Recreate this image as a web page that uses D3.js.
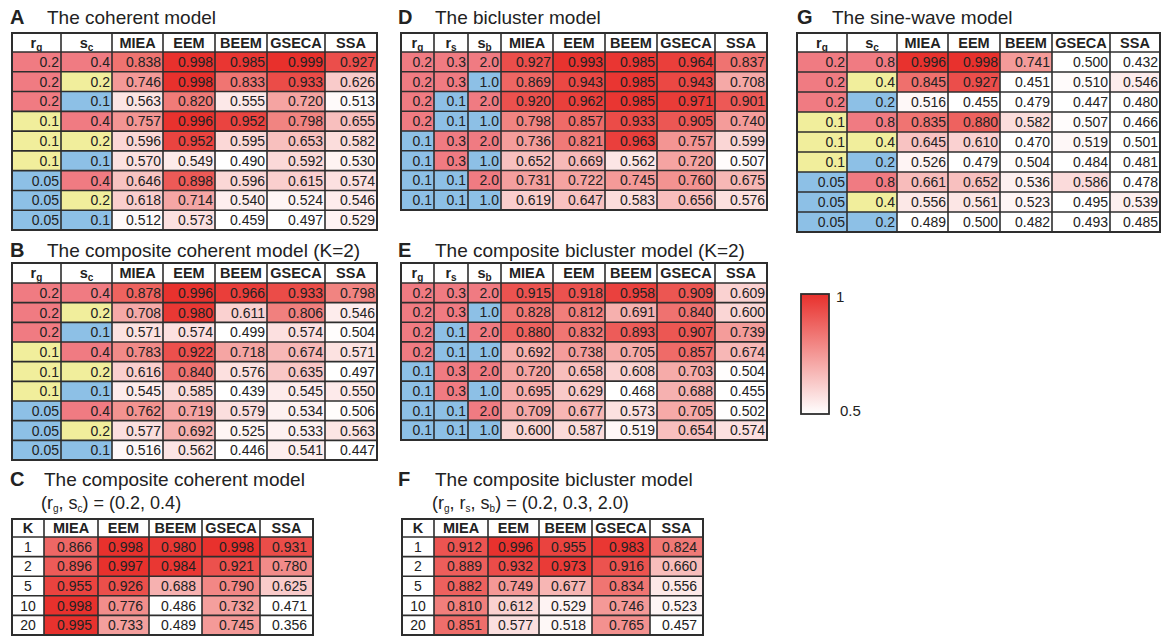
<!DOCTYPE html>
<html>
<head>
<meta charset="utf-8">
<script src="https://cdn.jsdelivr.net/npm/d3@7"></script>
<style>
  body { margin: 0; background: #fff; }
  svg { display: block; font-family: "Liberation Sans", Arial, sans-serif; }
</style>
</head>
<body>
<svg id="chart" width="1162" height="638"></svg>
<script>
// ---- data ----
const methods = ["MIEA", "EEM", "BEEM", "GSECA", "SSA"];

// A: coherent model
const cohRg = ["0.2", "0.2", "0.2", "0.1", "0.1", "0.1", "0.05", "0.05", "0.05"];
const cohSc = ["0.4", "0.2", "0.1", "0.4", "0.2", "0.1", "0.4", "0.2", "0.1"];
const cohScores = [
  [0.838, 0.998, 0.985, 0.999, 0.927],
  [0.746, 0.998, 0.833, 0.933, 0.626],
  [0.563, 0.820, 0.555, 0.720, 0.513],
  [0.757, 0.996, 0.952, 0.798, 0.655],
  [0.596, 0.952, 0.595, 0.653, 0.582],
  [0.570, 0.549, 0.490, 0.592, 0.530],
  [0.646, 0.898, 0.596, 0.615, 0.574],
  [0.618, 0.714, 0.540, 0.524, 0.546],
  [0.512, 0.573, 0.459, 0.497, 0.529]
];

// B: composite coherent model (K=2)
const compCohScores = [
  [0.878, 0.996, 0.966, 0.933, 0.798],
  [0.708, 0.980, 0.611, 0.806, 0.546],
  [0.571, 0.574, 0.499, 0.574, 0.504],
  [0.783, 0.922, 0.718, 0.674, 0.571],
  [0.616, 0.840, 0.576, 0.635, 0.497],
  [0.545, 0.585, 0.439, 0.545, 0.550],
  [0.762, 0.719, 0.579, 0.534, 0.506],
  [0.577, 0.692, 0.525, 0.533, 0.563],
  [0.516, 0.562, 0.446, 0.541, 0.447]
];

// C: composite coherent by K
const kValues = ["1", "2", "5", "10", "20"];
const cohKScores = [
  [0.866, 0.998, 0.980, 0.998, 0.931],
  [0.896, 0.997, 0.984, 0.921, 0.780],
  [0.955, 0.926, 0.688, 0.790, 0.625],
  [0.998, 0.776, 0.486, 0.732, 0.471],
  [0.995, 0.733, 0.489, 0.745, 0.356]
];

// D: bicluster model
const biRg = ["0.2", "0.2", "0.2", "0.2", "0.1", "0.1", "0.1", "0.1"];
const biRs = ["0.3", "0.3", "0.1", "0.1", "0.3", "0.3", "0.1", "0.1"];
const biSb = ["2.0", "1.0", "2.0", "1.0", "2.0", "1.0", "2.0", "1.0"];
const biScores = [
  [0.927, 0.993, 0.985, 0.964, 0.837],
  [0.869, 0.943, 0.985, 0.943, 0.708],
  [0.920, 0.962, 0.985, 0.971, 0.901],
  [0.798, 0.857, 0.933, 0.905, 0.740],
  [0.736, 0.821, 0.963, 0.757, 0.599],
  [0.652, 0.669, 0.562, 0.720, 0.507],
  [0.731, 0.722, 0.745, 0.760, 0.675],
  [0.619, 0.647, 0.583, 0.656, 0.576]
];

// E: composite bicluster (K=2)
const compBiScores = [
  [0.915, 0.918, 0.958, 0.909, 0.609],
  [0.828, 0.812, 0.691, 0.840, 0.600],
  [0.880, 0.832, 0.893, 0.907, 0.739],
  [0.692, 0.738, 0.705, 0.857, 0.674],
  [0.720, 0.658, 0.608, 0.703, 0.504],
  [0.695, 0.629, 0.468, 0.688, 0.455],
  [0.709, 0.677, 0.573, 0.705, 0.502],
  [0.600, 0.587, 0.519, 0.654, 0.574]
];

// F: composite bicluster by K
const biKScores = [
  [0.912, 0.996, 0.955, 0.983, 0.824],
  [0.889, 0.932, 0.973, 0.916, 0.660],
  [0.882, 0.749, 0.677, 0.834, 0.556],
  [0.810, 0.612, 0.529, 0.746, 0.523],
  [0.851, 0.577, 0.518, 0.765, 0.457]
];

// G: sine-wave model
const sineRg = ["0.2", "0.2", "0.2", "0.1", "0.1", "0.1", "0.05", "0.05", "0.05"];
const sineSc = ["0.8", "0.4", "0.2", "0.8", "0.4", "0.2", "0.8", "0.4", "0.2"];
const sineScores = [
  [0.996, 0.998, 0.741, 0.500, 0.432],
  [0.845, 0.927, 0.451, 0.510, 0.546],
  [0.516, 0.455, 0.479, 0.447, 0.480],
  [0.835, 0.880, 0.582, 0.507, 0.466],
  [0.645, 0.610, 0.470, 0.519, 0.501],
  [0.526, 0.479, 0.504, 0.484, 0.481],
  [0.661, 0.652, 0.536, 0.586, 0.478],
  [0.556, 0.561, 0.523, 0.495, 0.539],
  [0.489, 0.500, 0.482, 0.493, 0.485]
];

// ---- styles ----
const svg = d3.select("#chart");
const TXT = "#222";
const LINE = "#2e2e2e";
const RED = "#e8302c";
const color = d3.scaleLinear().domain([0.5, 1]).range(["#ffffff", RED]).clamp(true);
const levelColors = ["#f07b82", "#f1ee9c", "#8dc0e6"];
const fmt = d3.format(".3f");

// color for a parameter column: highest level red, lowest blue
function paramColor(vals) {
  const levels = [...new Set(vals)].sort((a, b) => +b - +a);
  const pal = levels.length === 2 ? [levelColors[0], levelColors[2]] : levelColors;
  return v => pal[levels.indexOf(v)];
}

// text with optional subscript parts
function richText(sel, parts, subSize) {
  let shift = 0;
  parts.forEach(p => {
    if (typeof p === "string") {
      sel.append("tspan").attr("dy", -shift).text(p);
      shift = 0;
    } else {
      sel.append("tspan").attr("dy", -shift).text(p.main);
      sel.append("tspan").attr("font-size", subSize).attr("dy", 3).text(p.sub);
      shift = 3;
    }
  });
}

function drawTable(t) {
  const g = svg.append("g");
  const edges = [t.x0];
  t.widths.forEach(w => edges.push(edges[edges.length - 1] + w));
  const nRows = t.scores.length;
  const y = d3.scaleBand().domain(d3.range(nRows)).range([t.top + t.headH, t.bottom]);
  const nParam = t.params.length;

  // header
  t.headers.forEach((h, i) => {
    g.append("rect").attr("x", edges[i]).attr("y", t.top)
      .attr("width", edges[i + 1] - edges[i]).attr("height", t.headH).attr("fill", "#fff");
    const tx = g.append("text").attr("x", (edges[i] + edges[i + 1]) / 2)
      .attr("y", t.top + t.headH / 2 + 5).attr("text-anchor", "middle")
      .attr("font-weight", "bold").attr("font-size", 14.5).attr("fill", TXT);
    richText(tx, [h], 10);
  });

  // parameter columns
  t.params.forEach((col, c) => {
    const pc = t.paramFill ? paramColor(col) : () => "#fff";
    col.forEach((v, r) => {
      g.append("rect").attr("x", edges[c]).attr("y", y(r))
        .attr("width", edges[c + 1] - edges[c]).attr("height", y.bandwidth()).attr("fill", pc(v));
      g.append("text")
        .attr("x", t.paramFill ? edges[c + 1] - 2 : (edges[c] + edges[c + 1]) / 2)
        .attr("text-anchor", t.paramFill ? "end" : "middle")
        .attr("y", y(r) + y.bandwidth() / 2 + 5)
        .attr("font-size", 14).attr("fill", TXT).text(v);
    });
  });

  // score cells
  t.scores.forEach((row, r) => {
    row.forEach((v, m) => {
      const c = nParam + m;
      g.append("rect").attr("x", edges[c]).attr("y", y(r))
        .attr("width", edges[c + 1] - edges[c]).attr("height", y.bandwidth()).attr("fill", color(v));
      g.append("text").attr("x", edges[c + 1] - t.pad).attr("text-anchor", "end")
        .attr("y", y(r) + y.bandwidth() / 2 + 5)
        .attr("font-size", 14).attr("fill", TXT).text(fmt(v));
    });
  });

  // grid lines
  const x1 = edges[edges.length - 1];
  edges.forEach(ex => g.append("line").attr("x1", ex).attr("x2", ex)
    .attr("y1", t.top).attr("y2", t.bottom).attr("stroke", LINE).attr("stroke-width", 1.6));
  [t.top, ...d3.range(nRows).map(r => y(r)), t.bottom].forEach(yy => g.append("line")
    .attr("x1", t.x0).attr("x2", x1).attr("y1", yy).attr("y2", yy)
    .attr("stroke", LINE).attr("stroke-width", 1.6));
  g.append("rect").attr("x", t.x0).attr("y", t.top).attr("width", x1 - t.x0)
    .attr("height", t.bottom - t.top).attr("fill", "none").attr("stroke", LINE).attr("stroke-width", 2);
}

function title(x, tx, y, letter, text, sub) {
  svg.append("text").attr("x", x).attr("y", y).attr("font-size", 20).attr("font-weight", "bold")
    .attr("fill", TXT).text(letter);
  svg.append("text").attr("x", tx).attr("y", y).attr("font-size", 19).attr("fill", TXT).text(text);
  if (sub) {
    const s = svg.append("text").attr("x", tx - 3).attr("y", y + 23).attr("font-size", 18).attr("fill", TXT);
    richText(s, sub, 10);
  }
}

const rg = { main: "r", sub: "g" }, sc = { main: "s", sub: "c" };
const rs = { main: "r", sub: "s" }, sb = { main: "s", sub: "b" };
const wide = [49, 51, 51, 52, 52, 58, 52];
const kw = [32, 54, 51, 53, 58, 53];

// A
title(10, 47, 24, "A", "The coherent model");
drawTable({ x0: 12, widths: wide, top: 33, headH: 19, bottom: 230,
  headers: [rg, sc, ...methods], params: [cohRg, cohSc], paramFill: true, scores: cohScores, pad: 2 });

// B
title(10, 47, 257, "B", "The composite coherent model (K=2)");
drawTable({ x0: 12, widths: wide, top: 263, headH: 20, bottom: 460,
  headers: [rg, sc, ...methods], params: [cohRg, cohSc], paramFill: true, scores: compCohScores, pad: 2 });

// C
title(10, 44, 486, "C", "The composite coherent model",
  ["(", rg, ", ", sc, ") = (0.2, 0.4)"]);
drawTable({ x0: 12, widths: kw, top: 519, headH: 18, bottom: 635,
  headers: ["K", ...methods], params: [kValues], paramFill: false, scores: cohKScores, pad: 6 });

// D
title(398, 435, 24, "D", "The bicluster model");
drawTable({ x0: 401, widths: [33, 34, 33, 52, 52, 52, 58, 52], top: 33, headH: 19, bottom: 210,
  headers: [rg, rs, sb, ...methods], params: [biRg, biRs, biSb], paramFill: true, scores: biScores, pad: 2 });

// E
title(398, 435, 257, "E", "The composite bicluster model (K=2)");
drawTable({ x0: 401, widths: [33, 34, 33, 52, 52, 52, 58, 52], top: 263, headH: 20, bottom: 440,
  headers: [rg, rs, sb, ...methods], params: [biRg, biRs, biSb], paramFill: true, scores: compBiScores, pad: 2 });

// F
title(398, 435, 486, "F", "The composite bicluster model",
  ["(", rg, ", ", rs, ", ", sb, ") = (0.2, 0.3, 2.0)"]);
drawTable({ x0: 402, widths: kw, top: 519, headH: 18, bottom: 635,
  headers: ["K", ...methods], params: [kValues], paramFill: false, scores: biKScores, pad: 6 });

// G
title(797, 832, 24, "G", "The sine-wave model");
drawTable({ x0: 797, widths: [50, 50, 51, 52, 52, 58, 50], top: 33, headH: 19, bottom: 232,
  headers: [rg, sc, ...methods], params: [sineRg, sineSc], paramFill: true, scores: sineScores, pad: 2 });

// legend
const defs = svg.append("defs");
const grad = defs.append("linearGradient").attr("id", "lg").attr("x1", 0).attr("x2", 0).attr("y1", 0).attr("y2", 1);
[1, 0.5].forEach((v, i) => grad.append("stop").attr("offset", i).attr("stop-color", color(v)));
const ly = d3.scaleLinear().domain([0.5, 1]).range([414, 294]);
svg.append("rect").attr("x", 801).attr("y", ly(1)).attr("width", 28).attr("height", ly(0.5) - ly(1))
  .attr("fill", "url(#lg)").attr("stroke", LINE).attr("stroke-width", 1.8);
svg.append("text").attr("x", 836).attr("y", ly(1) + 8).attr("font-size", 15).attr("fill", TXT).text("1");
svg.append("text").attr("x", 840).attr("y", ly(0.5) + 2).attr("font-size", 15).attr("fill", TXT).text("0.5");
</script>
</body>
</html>
